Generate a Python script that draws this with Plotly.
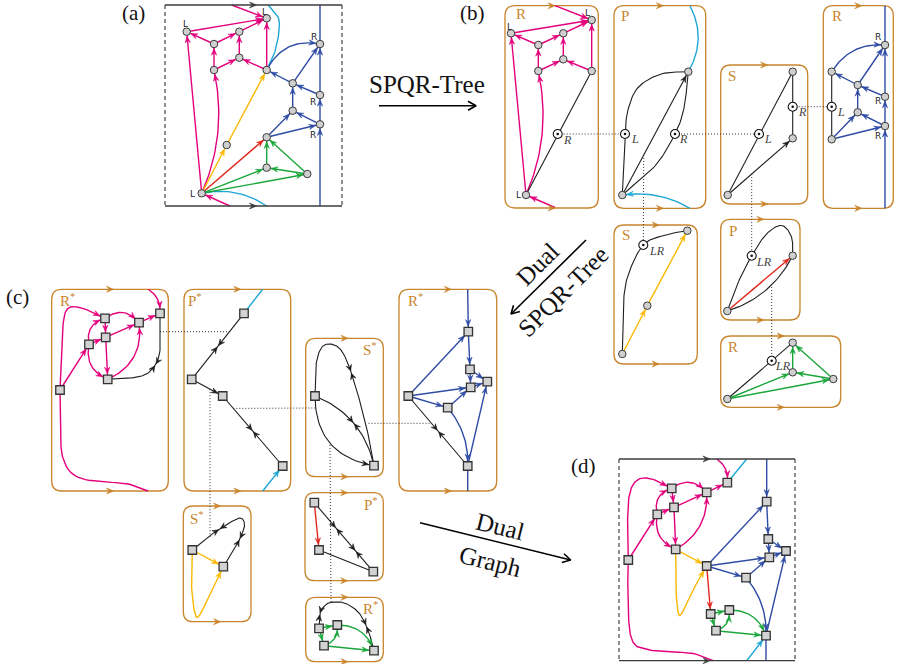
import numpy as np
import plotly.graph_objects as go

MAG = "#e4007c"; CYA = "#1ea7d6"; YEL = "#fbb800"; RED = "#e2261c"
GRN = "#1aa63a"; BLU = "#2f4ca5"; BLK = "#1e1e1e"; ORG = "#c9852c"

# ---------------- data: node positions and edges of every skeleton ----------------
MAG_R_EDGES = [("Lb", "Ll", 1, 0), ("Lb", "u0", 1, -10), ("u0", "u1", 1, 0), ("u1", "Ll", 1, 0),
               ("u1", "u2", 1, 0), ("u3", "u2", 1, 0), ("u0", "u3", 1, 0), ("u4", "u3", 1, 0),
               ("u4", "Lt", 1, 0), ("Ll", "Lt", 1, 0), ("u2", "Lt", 1, 0), ("_T1", "Lt", 1, 0),
               ("_B1", "Lb", 1, 0)]

A_NODES = {"Lt": (266.7, 18.3), "Ll": (186.7, 31.7), "u2": (239.3, 31.7), "u1": (214, 44),
           "u3": (239.3, 57.7), "u0": (214, 70), "u4": (266.7, 70), "Rt": (320, 44),
           "b1": (292.7, 83.3), "Rm": (320, 95), "b2": (292.7, 110.7), "Rb": (320, 124.3),
           "x": (266.7, 137.3), "y": (226.7, 145), "g1": (266.7, 167.7), "g2": (307.3, 174),
           "Lb": (201.7, 193.3), "_T1": (231.7, 5), "_T2": (268.3, 5), "_TB": (320, 5),
           "_B1": (230, 206), "_B2": (266.7, 206), "_BB": (320, 206), "_c1": (279, 20), "_c2": (276, 48)}
A_EDGES = [(u, v, MAG, a, b) for u, v, a, b in MAG_R_EDGES] + [
    (["_T2", "_c1", "_c2", "u4"], CYA, 0), ("Lb", "_B2", CYA, 0, 7),
    ("Lb", "y", YEL, 1, 0), ("y", "u4", YEL, 1, 0), ("Lb", "x", RED, 1, 0),
    ("Lb", "g1", GRN, 1, 0), ("Lb", "g2", GRN, 1, 0), ("g2", "g1", GRN, 1, 0),
    ("g1", "x", GRN, 1, 0), ("g2", "x", GRN, 1, 0),
    ("_BB", "Rb", BLU, 1, 0), ("Rb", "Rm", BLU, 1, 0), ("Rm", "Rt", BLU, 1, 0), ("Rt", "_TB", BLU, 0, 0),
    ("x", "b2", BLU, 1, 0), ("x", "Rb", BLU, 1, 0), ("Rb", "b2", BLU, 1, 0), ("b2", "b1", BLU, 1, 0),
    ("Rm", "b1", BLU, 1, 0), ("b1", "u4", BLU, 1, 0), ("b1", "Rt", BLU, 1, 0), ("u4", "Rt", BLU, 1, 11)]

BR1_NODES = {"Lt": (591.7, 20), "Ll": (511, 33.3), "u2": (563.3, 33.3), "u1": (538.3, 45),
             "u3": (563.3, 59.3), "u0": (538.3, 71), "u4": (591.7, 71), "vR": (557.7, 134),
             "Lb": (526, 195), "_T1": (555, 5.7), "_B1": (555, 207.5)}
BR1_EDGES = [(u, v, MAG, a, b) for u, v, a, b in MAG_R_EDGES] + [("Lb", "u4", BLK, 0, 0)]

BP_NODES = {"top": (688.3, 71.7), "bot": (622.3, 195), "vL": (625, 134), "vR": (675, 134),
            "_T": (690, 5.7), "_B": (690, 208.3), "_p1": (628.5, 108), "_p2": (638.5, 87),
            "_p3": (661, 74), "_q1": (655, 166), "_q2": (684, 108), "_d": (643.7, 155)}
BP_EDGES = [("bot", "top", BLK, 1, 0), (["bot", "vL", "_p1", "_p2", "_p3", "top"], BLK, 0),
            (["bot", "_q1", "vR", "_q2", "top"], BLK, 0), ("_T", "top", CYA, 0, 9), ("_B", "bot", CYA, 1, -6)]

BS_NODES = {"top": (792.7, 71.7), "vR": (792.7, 106.7), "m": (792.7, 138.3), "bot": (727.7, 195),
            "vL": (759, 134), "_d": (751.7, 174.1)}
BS_EDGES = [("bot", "top", BLK, 0, 0), ("top", "m", BLK, 0, 0), ("bot", "m", BLK, 1, 0)]

BR2_NODES = {"t": (831.7, 71.7), "vL": (831.7, 106.7), "bl": (831.7, 139.3), "c1": (857.7, 85),
             "c2": (857.7, 112.3), "Rt": (885, 45), "Rm": (885, 96.7), "Rb": (885, 126),
             "_TB": (885, 5.7), "_BB": (885, 208.3)}
BR2_EDGES = [("_BB", "Rb", BLU, 1, 0), ("Rb", "Rm", BLU, 1, 0), ("Rm", "Rt", BLU, 1, 0), ("Rt", "_TB", BLU, 0, 0),
             ("bl", "c2", BLU, 1, 0), ("bl", "Rb", BLU, 1, 0), ("Rb", "c2", BLU, 1, 0), ("c2", "c1", BLU, 1, 0),
             ("Rm", "c1", BLU, 1, 0), ("c1", "t", BLU, 1, 0), ("c1", "Rt", BLU, 1, 0), ("t", "Rt", BLU, 1, 9),
             ("t", "bl", BLK, 0, 0)]

BS2_NODES = {"top": (687.3, 230.7), "vLR": (643.3, 245), "m": (647.3, 305.7), "bot": (622.3, 354),
             "_w1": (623.5, 302), "_w2": (628.5, 274), "_w3": (665, 235)}
BS2_EDGES = [("bot", "m", YEL, 1, 0), ("m", "top", YEL, 1, 0),
             (["bot", "_w1", "_w2", "vLR", "_w3", "top"], BLK, 0)]

BP2_NODES = {"r": (792.7, 255.7), "vLR": (751.7, 255.7), "bl": (727.3, 311), "_w0": (737, 285),
             "_w1": (766.5, 234), "_w2": (781.7, 225.5), "_w3": (791.5, 237), "_d": (771.7, 287)}
BP2_EDGES = [("bl", "r", RED, 1, 0), (["bl", "_w0", "vLR", "_w1", "_w2", "_w3", "r"], BLK, 0),
             ("bl", "r", BLK, 0, -9)]

BR3_NODES = {"t": (792.7, 342.7), "vLR": (771.7, 360.7), "m": (792.7, 372.3), "r": (833.3, 379),
             "bl": (727.3, 399)}
BR3_EDGES = [("bl", "t", BLK, 0, 0), ("bl", "m", GRN, 1, 0), ("bl", "r", GRN, 1, 0), ("r", "m", GRN, 1, 0),
             ("m", "t", GRN, 1, 0), ("r", "t", GRN, 1, 0)]

CR1_NODES = {"A": (60, 390), "B": (89, 344.3), "C": (105, 318.3), "D": (105.7, 337.3), "E": (107.7, 379.3),
             "F": (139, 322.7), "G": (160, 313.3), "_T": (148.3, 289.3), "_B": (148, 491),
             "_a1": (62, 340), "_a2": (66, 311), "_a3": (80, 307.5), "_b1": (128, 484), "_b2": (80, 478),
             "_b3": (63, 458), "_b4": (60.5, 420), "_g1": (160, 350), "_g2": (154, 367), "_g3": (140, 376.5),
             "_d": (160, 331.7)}
CR1_EDGES = [("A", "B", MAG, 1, 0), (["A", "_a1", "_a2", "_a3", "C"], MAG, 1),
             (["_B", "_b1", "_b2", "_b3", "_b4", "A"], MAG, 0),
             ("B", "D", MAG, 1, 0), ("C", "D", MAG, 1, 0), ("D", "E", MAG, 1, 0), ("D", "F", MAG, 1, 0),
             ("F", "G", MAG, 1, 0), ("C", "F", MAG, 1, 8), ("B", "C", MAG, 1, 7), ("B", "E", MAG, 1, -8),
             ("E", "F", MAG, 1, -12), ("_T", "G", MAG, 1, 4), (["G", "_g1", "_g2", "_g3", "E"], BLK, [0.5])]

CP_NODES = {"t": (244, 313.3), "l": (191.7, 379.3), "m": (222.7, 396), "b": (282.7, 466),
            "_T": (262.7, 289.3), "_B": (262.7, 491), "_d1": (229.4, 331.7), "_d2": (210, 389.2),
            "_d3": (233.3, 408.4)}
CP_EDGES = [("t", "l", BLK, [0.5], 0), ("l", "m", BLK, 1, 0), ("m", "b", BLK, [0.5], 0),
            ("_T", "t", CYA, 0, 0), ("_B", "b", CYA, 1, 0)]

CS_NODES = {"l": (315, 396), "r": (374, 465.7), "_s1": (316, 365), "_s2": (322, 347), "_s3": (333, 344.5),
            "_s4": (343, 353), "_s5": (353, 378), "_s6": (366, 425), "_d1": (315.5, 408),
            "_d2": (368.5, 423.3), "_d3": (330, 445)}
CS_EDGES = [(["l", "_s1", "_s2", "_s3", "_s4", "_s5", "_s6", "r"], BLK, [0.5]),
            ("l", "r", BLK, [0.5], 12), ("l", "r", BLK, 1, -19)]

CR2_NODES = {"a": (468.3, 331.7), "b": (470, 369.3), "c": (470.7, 387.3), "d": (487.3, 381.7),
             "e": (408.3, 396), "f": (447.7, 407.7), "g": (467.7, 466), "_T": (467.7, 289.3),
             "_B": (467.7, 491), "_d": (431.5, 423.3)}
CR2_EDGES = [("_T", "a", BLU, 1, 0), ("a", "b", BLU, 1, 0), ("b", "c", BLU, 1, 0), ("b", "d", BLU, 1, 0),
             ("c", "d", BLU, 1, 0), ("e", "a", BLU, 1, 0), ("e", "c", BLU, 1, 0), ("e", "f", BLU, 1, 0),
             ("f", "c", BLU, 1, 0), ("g", "d", BLU, 1, 0), ("f", "g", BLU, 1, 6), ("g", "_B", BLU, 0, 0),
             ("e", "g", BLK, [0.5], 0)]

CS2_NODES = {"l": (192.3, 550), "r": (223.3, 566.7), "_y1": (191.5, 585), "_y2": (195, 614),
             "_y3": (200, 614.5), "_y4": (211, 592), "_k1": (208, 537), "_k2": (226, 525),
             "_k3": (240, 518), "_k4": (244.5, 524), "_k5": (242, 534), "_k6": (236, 546), "_d": (210, 537)}
CS2_EDGES = [("l", "r", YEL, 1, 0), (["l", "_y1", "_y2", "_y3", "_y4", "r"], YEL, 1),
             (["l", "_k1", "_k2", "_k3", "_k4", "_k5", "_k6", "r"], BLK, [0.3, 0.72])]

CP2_NODES = {"tl": (314.3, 502.7), "ml": (319, 550), "br": (373.3, 571.7)}
CP2_EDGES = [("tl", "ml", RED, 1, 0), ("tl", "br", BLK, [0.37, 0.7], 0), ("ml", "br", BLK, 0, 0)]

CR3_NODES = {"a": (319, 628.3), "b": (337.3, 625), "c": (324, 645.7), "d": (374, 650.7),
             "_l1": (320, 613), "_l2": (326, 604.5), "_l3": (334, 602), "_l4": (346, 603.5),
             "_l5": (359, 613), "_l6": (368, 630), "_d": (331, 602.3)}
CR3_EDGES = [(["a", "_l1", "_l2", "_l3", "_l4", "_l5", "_l6", "d"], BLK, [0.14, 0.75]),
             ("a", "b", GRN, 1, 0), ("a", "c", GRN, 1, 0), ("c", "b", GRN, 1, -5), ("b", "d", GRN, 1, 8),
             ("c", "d", GRN, 1, 0)]

D_NODES = {"A": (628.3, 560), "B": (657.3, 514.3), "C": (671.7, 488.3), "D": (674, 507.3),
           "E": (675.7, 549.3), "F": (706.7, 492.3), "G": (727.3, 482.7), "H": (706.7, 566),
           "a": (766.7, 501.7), "b": (768.3, 539), "c": (769.3, 557.3), "dd": (786, 551),
           "f": (746, 577.7), "g": (766, 635.7), "r1": (710.7, 614), "r2": (729.3, 610), "r3": (716, 630.7),
           "_TG": (716.7, 459), "_TC": (746.7, 459), "_TB": (766.7, 459), "_BA": (713.3, 660.7),
           "_BC": (746.7, 660.7), "_BB": (766, 660.7),
           "_a1": (627.5, 530), "_a2": (629, 497), "_a3": (636, 481), "_a4": (650, 478.5),
           "_b1": (693, 653.5), "_b2": (650, 650), "_b3": (632, 640), "_b4": (628, 600),
           "_y1": (675.8, 585), "_y2": (678, 612), "_y3": (682, 613), "_y4": (693, 590)}
D_EDGES = [("A", "B", MAG, 1, 0), (["A", "_a1", "_a2", "_a3", "_a4", "C"], MAG, 1),
           (["_BA", "_b1", "_b2", "_b3", "_b4", "A"], MAG, 0),
           ("B", "D", MAG, 1, 0), ("C", "D", MAG, 1, 0), ("D", "E", MAG, 1, 0), ("D", "F", MAG, 1, 0),
           ("F", "G", MAG, 1, 0), ("C", "F", MAG, 1, 8), ("B", "C", MAG, 1, 7), ("B", "E", MAG, 1, -8),
           ("E", "F", MAG, 1, -10), ("_TG", "G", MAG, 1, 4),
           ("G", "_TC", CYA, 0, 0), ("_BC", "g", CYA, 1, 0),
           ("E", "H", YEL, 1, 0), (["E", "_y1", "_y2", "_y3", "_y4", "H"], YEL, 1),
           ("H", "r1", RED, 1, 0),
           ("r1", "r2", GRN, 1, 0), ("r1", "r3", GRN, 1, 0), ("r3", "r2", GRN, 1, -5), ("r2", "g", GRN, 1, 8),
           ("r3", "g", GRN, 1, 0),
           ("_TB", "a", BLU, 1, 0), ("a", "b", BLU, 1, 0), ("b", "c", BLU, 1, 0), ("b", "dd", BLU, 1, 0),
           ("c", "dd", BLU, 1, 0), ("H", "a", BLU, 1, 0), ("H", "c", BLU, 1, 0), ("H", "f", BLU, 1, 0),
           ("f", "c", BLU, 1, 0), ("g", "dd", BLU, 1, 0), ("f", "g", BLU, 1, 6), ("g", "_BB", BLU, 0, 0)]

# panel id -> (nodes, edges, node shape)
PANELS = {"a": (A_NODES, A_EDGES, "circle"), "bR1": (BR1_NODES, BR1_EDGES, "circle"),
          "bP": (BP_NODES, BP_EDGES, "circle"), "bS": (BS_NODES, BS_EDGES, "circle"),
          "bR2": (BR2_NODES, BR2_EDGES, "circle"), "bS2": (BS2_NODES, BS2_EDGES, "circle"),
          "bP2": (BP2_NODES, BP2_EDGES, "circle"), "bR3": (BR3_NODES, BR3_EDGES, "circle"),
          "cR1": (CR1_NODES, CR1_EDGES, "square"), "cP": (CP_NODES, CP_EDGES, "square"),
          "cS": (CS_NODES, CS_EDGES, "square"), "cR2": (CR2_NODES, CR2_EDGES, "square"),
          "cS2": (CS2_NODES, CS2_EDGES, "square"), "cP2": (CP2_NODES, CP2_EDGES, "square"),
          "cR3": (CR3_NODES, CR3_EDGES, "square"), "d": (D_NODES, D_EDGES, "square")}

DOTTED = [("bR1", "vR", "bP", "vL"), ("bP", "vR", "bS", "vL"), ("bS", "vR", "bR2", "vL"),
          ("bP", "_d", "bS2", "vLR"), ("bS", "_d", "bP2", "vLR"), ("bP2", "_d", "bR3", "vLR"),
          ("cR1", "_d", "cP", "_d1"), ("cP", "_d2", "cS2", "_d"), ("cP", "_d3", "cS", "_d1"),
          ("cS", "_d2", "cR2", "_d"), ("cS", "_d3", "cR3", "_d")]

# skeleton boxes: x0, y0, x1, y1, label, label x, label y
BOXES = [(505, 5.7, 598.3, 208, "R", 520.5, 14), (614, 5.7, 705.7, 208.3, "P", 625, 16),
         (720.7, 65, 807.7, 204, "S", 731.7, 76), (823.3, 5.7, 893.3, 208.3, "R", 836.7, 16),
         (614, 225, 697.3, 364, "S", 626, 235), (720.7, 219.3, 800, 320, "P", 732.7, 231),
         (720.7, 336, 840.7, 407.3, "R", 732.7, 347),
         (51.7, 289.3, 168.3, 491, "R*", 67, 300), (184, 289.3, 290.7, 491, "P*", 194.7, 300),
         (305.7, 338.3, 383.3, 476.7, "S*", 370, 349), (399, 289.3, 496.7, 491, "R*", 415, 300),
         (183.3, 506, 251, 621.7, "S*", 197, 518), (305, 492.7, 383.3, 580.7, "P*", 370.5, 503.5),
         (305.7, 597.3, 383.3, 661.7, "R*", 370, 608)]
FRAMES = [(165, 5, 342, 206), (619, 459, 795, 660.7)]

SANS_LABELS = [("L", 185.5, 23.5), ("L", 264, 11.5), ("R", 314, 36.5), ("R", 313, 102), ("R", 313, 134.5),
               ("L", 192.5, 193.5), ("L", 509.5, 26.5), ("L", 587, 12.5), ("L", 518.5, 195),
               ("R", 878.3, 36.7), ("R", 877.7, 101), ("R", 878.3, 136)]
ITALIC_LABELS = [("R", 567, 139.5), ("L", 634.5, 139), ("R", 683.5, 139), ("L", 768, 139),
                 ("R", 802, 112), ("L", 840.5, 111.5), ("LR", 657, 250.5), ("LR", 763.5, 262),
                 ("LR", 783, 365.5)]
BIG_ARROWS = [((379, 105.7), (476, 105.7)), ((586, 240), (511, 314)), ((420, 522.7), (570.7, 560))]
BIG_TEXT = [("SPQR-Tree", 427, 84, 0), ("Dual", 537, 264, -45), ("SPQR-Tree", 563, 291, -45),
            ("Dual", 500, 526, 14), ("Graph", 490, 561, 14)]
PANEL_TAGS = [("(a)", 133, 13), ("(b)", 472, 13), ("(c)", 17, 297), ("(d)", 583, 466)]


# ---------------- geometry helpers ----------------
def quad(p, q, bend, n=30):
    p, q = np.array(p, float), np.array(q, float)
    d = q - p
    L = np.hypot(*d)
    nrm = np.array([d[1], -d[0]]) / L
    c = (p + q) / 2 + nrm * bend * 2
    t = np.linspace(0, 1, n)[:, None]
    return (1 - t) ** 2 * p + 2 * (1 - t) * t * c + t ** 2 * q


def catmull(pts, n=14):
    P = [pts[0]] + list(pts) + [pts[-1]]
    P = [np.array(p, float) for p in P]
    out = []
    for i in range(1, len(P) - 2):
        p0, p1, p2, p3 = P[i - 1], P[i], P[i + 1], P[i + 2]
        for t in np.linspace(0, 1, n, endpoint=False):
            out.append(0.5 * ((2 * p1) + (-p0 + p2) * t + (2 * p0 - 5 * p1 + 4 * p2 - p3) * t * t
                              + (-p0 + 3 * p1 - 3 * p2 + p3) * t ** 3))
    out.append(P[-2])
    return np.array(out)


def at_len(poly, s):
    seg = np.diff(poly, axis=0)
    l = np.hypot(seg[:, 0], seg[:, 1])
    keep = l > 1e-9
    seg, l = seg[keep], l[keep]
    starts = poly[:-1][keep]
    cum = np.concatenate([[0], np.cumsum(l)])
    s = float(np.clip(s, 0, cum[-1]))
    i = int(min(max(np.searchsorted(cum, s, side="right") - 1, 0), len(l) - 1))
    f = (s - cum[i]) / l[i]
    return starts[i] + f * seg[i], seg[i] / l[i], cum[-1]


def head(tip, u, L=6.5, W=2.6):
    v = np.array([-u[1], u[0]])
    return [tip, tip - L * u + W * v, tip - 0.62 * L * u, tip - L * u - W * v, tip]


lines = {}
heads = {}


def add_line(color, pts):
    xs, ys = lines.setdefault(color, ([], []))
    xs.extend(list(pts[:, 0]) + [None])
    ys.extend(list(pts[:, 1]) + [None])


def add_head(color, poly):
    xs, ys = heads.setdefault(color, ([], []))
    xs.extend([p[0] for p in poly] + [None])
    ys.extend([p[1] for p in poly] + [None])


def radius(name, shape):
    if name.startswith("_") or name.startswith("v"):
        return 0.0
    return 4.6 if shape == "circle" else 5.6


for pid, (nodes, edges, shape) in PANELS.items():
    for e in edges:
        if isinstance(e[0], list):
            path, color, arrow = e
            bend = 0
        else:
            u, v, color, arrow, bend = e
            path = [u, v]
        pts = [nodes[k] for k in path]
        poly = quad(pts[0], pts[1], bend) if len(pts) == 2 else catmull(pts)
        add_line(color, poly)
        _, _, total = at_len(poly, 0)
        if arrow == 1:
            tip, u_, _ = at_len(poly, total - radius(path[-1], shape))
            add_head(color, head(tip, u_))
        elif isinstance(arrow, list):
            for t in arrow:
                c = t * total
                p1, u1, _ = at_len(poly, c - 1.2)
                add_head(color, head(p1, u1, 6, 2.8))
                p2, u2, _ = at_len(poly, c + 1.2)
                add_head(color, head(p2, -u2, 6, 2.8))

# frames of panels (a) and (d)
frame_dash_x, frame_dash_y = [], []
for x0, y0, x1, y1 in FRAMES:
    add_line("#3c3c3c", np.array([[x0, y0], [x1, y0]]))
    add_line("#3c3c3c", np.array([[x0, y1], [x1, y1]]))
    frame_dash_x += [x0, x0, None, x1, x1, None]
    frame_dash_y += [y0, y1, None, y0, y1, None]
    for yy in (y0, y1):
        add_head("#3c3c3c", head(np.array([(x0 + x1) / 2 + 3, yy]), np.array([1.0, 0.0]), 7, 3))

# big arrows (open heads)
big_x, big_y = [], []
for (sx, sy), (ex, ey) in BIG_ARROWS:
    d = np.array([ex - sx, ey - sy], float)
    u = d / np.hypot(*d)
    v = np.array([-u[1], u[0]])
    tip = np.array([ex, ey], float)
    a1 = tip - 8 * u + 4.5 * v
    a2 = tip - 8 * u - 4.5 * v
    big_x += [sx, ex, None, a1[0], ex, a2[0], None]
    big_y += [sy, ey, None, a1[1], ey, a2[1], None]

# rounded skeleton boxes
shapes = []
R = 10
for x0, y0, x1, y1, lab, lx, ly in BOXES:
    path = (f"M {x0+R},{y0} L {x1-R},{y0} Q {x1},{y0} {x1},{y0+R} L {x1},{y1-R} Q {x1},{y1} {x1-R},{y1} "
            f"L {x0+R},{y1} Q {x0},{y1} {x0},{y1-R} L {x0},{y0+R} Q {x0},{y0} {x0+R},{y0} Z")
    shapes.append(dict(type="path", path=path, xref="x", yref="y", line=dict(color=ORG, width=1.3),
                       fillcolor="rgba(0,0,0,0)", layer="below"))
    for yy in (y0, y1):
        add_head(ORG, head(np.array([(x0 + x1) / 2 + 3.5, yy]), np.array([1.0, 0.0]), 7, 3))

fig = go.Figure()

# dotted links between virtual edges
dx, dy = [], []
for p1, n1, p2, n2 in DOTTED:
    a = PANELS[p1][0][n1]
    b = PANELS[p2][0][n2]
    dx += [a[0], b[0], None]
    dy += [a[1], b[1], None]
fig.add_trace(go.Scatter(x=dx, y=dy, mode="lines", line=dict(color="#333333", width=1, dash="1px,2px"),
                         hoverinfo="skip"))
fig.add_trace(go.Scatter(x=frame_dash_x, y=frame_dash_y, mode="lines",
                         line=dict(color="#444444", width=1.2, dash="4px,3px"), hoverinfo="skip"))

for color, (xs, ys) in lines.items():
    w = 1.1 if color == BLK else (1.3 if color == "#3c3c3c" else 1.4)
    fig.add_trace(go.Scatter(x=xs, y=ys, mode="lines", line=dict(color=color, width=w), hoverinfo="skip"))
fig.add_trace(go.Scatter(x=big_x, y=big_y, mode="lines", line=dict(color="#000000", width=1.6),
                         hoverinfo="skip"))
for color, (xs, ys) in heads.items():
    fig.add_trace(go.Scatter(x=xs, y=ys, mode="lines", fill="toself", fillcolor=color,
                             line=dict(color=color, width=0.6), hoverinfo="skip"))

# nodes
cx, cy, sx_, sy_, vx, vy = [], [], [], [], [], []
for pid, (nodes, edges, shape) in PANELS.items():
    for k, (x, y) in nodes.items():
        if k.startswith("_"):
            continue
        if k.startswith("v"):
            vx.append(x); vy.append(y)
        elif shape == "circle":
            cx.append(x); cy.append(y)
        else:
            sx_.append(x); sy_.append(y)
fig.add_trace(go.Scatter(x=cx, y=cy, mode="markers", hoverinfo="skip",
                         marker=dict(symbol="circle", size=7.5, color="#cfcfcf",
                                     line=dict(color="#3a3a3a", width=1))))
fig.add_trace(go.Scatter(x=sx_, y=sy_, mode="markers", hoverinfo="skip",
                         marker=dict(symbol="square", size=8.5, color="#d2d2d2",
                                     line=dict(color="#333333", width=1.3))))
fig.add_trace(go.Scatter(x=vx, y=vy, mode="markers", hoverinfo="skip",
                         marker=dict(symbol="circle", size=9, color="#ffffff",
                                     line=dict(color="#111111", width=1.1))))
fig.add_trace(go.Scatter(x=vx, y=vy, mode="markers", hoverinfo="skip",
                         marker=dict(symbol="circle", size=2.6, color="#111111")))

ann = []
for t, x, y in SANS_LABELS:
    ann.append(dict(x=x, y=y, text=t, showarrow=False, xref="x", yref="y",
                    font=dict(family="DejaVu Sans", size=9, color="#222222")))
for t, x, y in ITALIC_LABELS:
    ann.append(dict(x=x, y=y, text=f"<i>{t}</i>", showarrow=False, xref="x", yref="y",
                    font=dict(family="Liberation Serif", size=12, color="#444444")))
for x0, y0, x1, y1, lab, lx, ly in BOXES:
    txt = lab[0] + ("<sup>*</sup>" if lab.endswith("*") else "")
    ann.append(dict(x=lx, y=ly, text=txt, showarrow=False, xref="x", yref="y",
                    font=dict(family="Liberation Serif", size=15, color=ORG)))
for t, x, y, ang in BIG_TEXT:
    ann.append(dict(x=x, y=y, text=t, showarrow=False, xref="x", yref="y", textangle=ang,
                    font=dict(family="Liberation Serif", size=25, color="#111111")))
for t, x, y in PANEL_TAGS:
    ann.append(dict(x=x, y=y, text=t, showarrow=False, xref="x", yref="y",
                    font=dict(family="Liberation Serif", size=21, color="#111111")))

fig.update_layout(width=897, height=664, margin=dict(l=0, r=0, t=0, b=0), autosize=False,
                  paper_bgcolor="white", plot_bgcolor="white", showlegend=False,
                  xaxis=dict(range=[0, 897], visible=False, fixedrange=True),
                  yaxis=dict(range=[664, 0], visible=False, fixedrange=True),
                  shapes=shapes, annotations=ann, hovermode=False)
fig.write_html("out.html", config={"displayModeBar": False},
               post_script="document.body.style.margin='0px';document.body.style.padding='0px';")
